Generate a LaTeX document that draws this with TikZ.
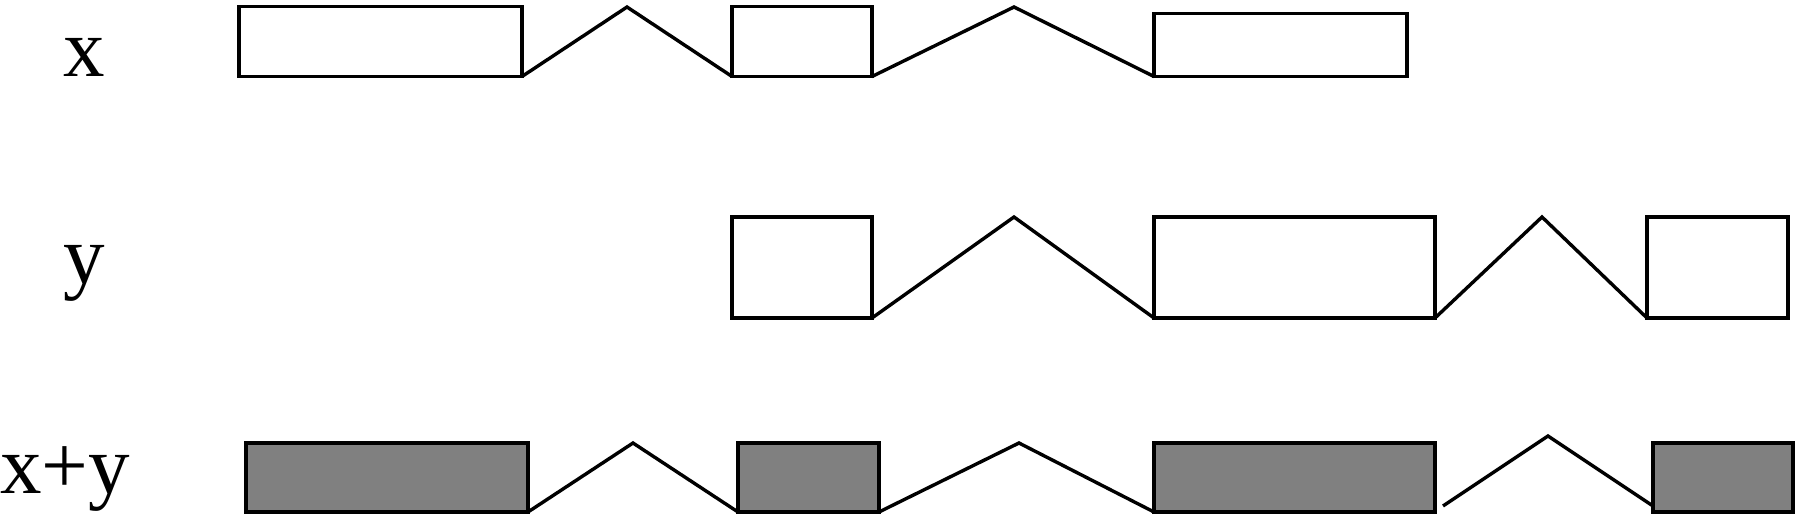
\documentclass[tikz,border=0pt]{standalone}
\usepackage{fontspec}
\setmainfont{Liberation Serif}
\begin{document}
\begin{tikzpicture}[x=1pt,y=-1pt,
  exonbox/.style={draw=black,line width=3.4pt,inner sep=0pt,outer sep=0pt,fill=white},
  sumbox/.style={exonbox,fill=gray50},
  intron/.style={draw=black,line width=3.4pt},
  lbl/.style={anchor=base,inner sep=0pt,font=\fontsize{83}{83}\selectfont}]
\definecolor{gray50}{RGB}{128,128,128}
\useasboundingbox (0,0) rectangle (1800,519);
% labels
\node[lbl] (lx) at (84,77) {x};
\node[lbl] (ly) at (84,283) {y};
\node[lbl] (lxy) at (65,493) {x+y};
% row x
\node[exonbox,minimum width=283pt,minimum height=70pt] (x1) at (380.5,41.5) {};
\node[exonbox,minimum width=140pt,minimum height=70pt] (x2) at (802,41.5) {};
\node[exonbox,minimum width=253pt,minimum height=63pt] (x3) at (1280.5,45) {};
\coordinate (xp1) at (627,7);
\coordinate (xp2) at (1014,7);
\draw[intron] (x1.south east) -- (xp1) -- (x2.south west);
\draw[intron] (x2.south east) -- (xp2) -- (x3.south west);
% row y
\node[exonbox,minimum width=140pt,minimum height=101pt] (y1) at (802,267.5) {};
\node[exonbox,minimum width=281pt,minimum height=101pt] (y2) at (1294.5,267.5) {};
\node[exonbox,minimum width=141pt,minimum height=101pt] (y3) at (1717.5,267.5) {};
\coordinate (yp1) at (1014,217);
\coordinate (yp2) at (1542,217);
\draw[intron] (y1.south east) -- (yp1) -- (y2.south west);
\draw[intron] (y2.south east) -- (yp2) -- (y3.south west);
% row x+y
\node[sumbox,minimum width=282pt,minimum height=69pt] (s1) at (387,477.5) {};
\node[sumbox,minimum width=141pt,minimum height=69pt] (s2) at (808.5,477.5) {};
\node[sumbox,minimum width=281pt,minimum height=69pt] (s3) at (1294.5,477.5) {};
\node[sumbox,minimum width=140pt,minimum height=69pt] (s4) at (1723,477.5) {};
\coordinate (sp1) at (633,443);
\coordinate (sp2) at (1019,443);
\coordinate (sp3) at (1548,436);
\coordinate (sg1) at (1443,506);
\coordinate (sg2) at (1653,506);
\draw[intron] (s1.south east) -- (sp1) -- (s2.south west);
\draw[intron] (s2.south east) -- (sp2) -- (s3.south west);
\draw[intron] (sg1) -- (sp3) -- (sg2);
\end{tikzpicture}
\end{document}
